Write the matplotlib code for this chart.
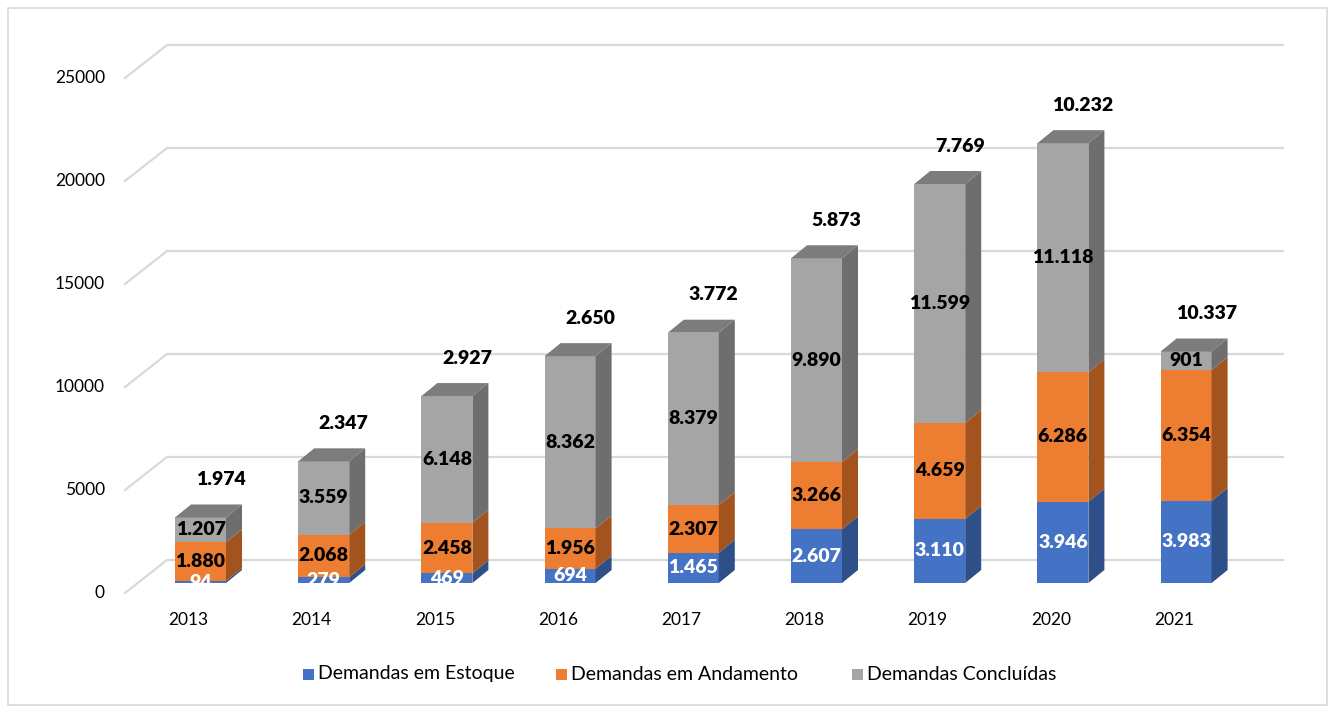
import matplotlib.pyplot as plt
from matplotlib.patches import Polygon, Rectangle

years = ['2013', '2014', '2015', '2016', '2017', '2018', '2019', '2020', '2021']
estoque = [94, 279, 469, 694, 1465, 2607, 3110, 3946, 3983]
andamento = [1880, 2068, 2458, 1956, 2307, 3266, 4659, 6286, 6354]
concluidas = [1207, 3559, 6148, 8362, 8379, 9890, 11599, 11118, 901]
top_labels = ['1.974', '2.347', '2.927', '2.650', '3.772', '5.873', '7.769', '10.232', '10.337']
series_names = ['Demandas em Estoque', 'Demandas em Andamento', 'Demandas Concluídas']
yticks = [0, 5000, 10000, 15000, 20000, 25000]

plt.rcParams['font.family'] = ['Lato', 'DejaVu Sans']

W, H = 1330, 707
fig = plt.figure(figsize=(W / 100, H / 100), dpi=100)
ax = fig.add_axes([0, 0, 1, 1])
ax.axis('off')

# pixel geometry of the original 3d chart: 123.2 px per category, 103 px per 5000
xs_px, ys_px = 123.2, 103 / 5000
x0_px, y0_px = 200.5, 583
ax.set_xlim((0 - x0_px) / xs_px, (W - x0_px) / xs_px)
ax.set_ylim((y0_px - H) / ys_px, y0_px / ys_px)

def dx(p): return p / xs_px
def dy(p): return p / ys_px

# outer frame
ax.add_patch(Rectangle((dx(8 - x0_px), dy(y0_px - 705)), dx(1319), dy(697),
                       fill=False, edgecolor='#D9D9D9', lw=1.2, zorder=0))

# back wall gridlines + left wall diagonals
grid_c = '#D9D9D9'
xl_front, xl_back, x_right = dx(125 - x0_px), dx(167 - x0_px), dx(1283 - x0_px)
for v in yticks:
    yb = v + dy(23)
    yf = v - dy(10)
    ax.plot([xl_front, xl_back, x_right], [yf, yb, yb], color=grid_c, lw=1.6,
            solid_joinstyle='miter', zorder=1)
    ax.text(dx(105 - x0_px), yf, str(v), ha='right', va='center', fontsize=12.5,
            color='#000000')

bw = dx(51)
ddx, ddy = dx(16), dy(13)
front_c = ['#4472C4', '#ED7D31', '#A5A5A5']
side_c = ['#2F4F89', '#A3531E', '#6E6E6E']
top_c = '#7C7C7C'
txt_c = ['white', 'black', 'black']

for i, yr in enumerate(years):
    vals = [estoque[i], andamento[i], concluidas[i]]
    base = 0
    xl, xr = i - bw / 2, i + bw / 2
    for k, v in enumerate(vals):
        ax.bar(i, v, bw, bottom=base, color=front_c[k], edgecolor='none', zorder=3)
        ax.add_patch(Polygon([(xr, base), (xr, base + v), (xr + ddx, base + v + ddy),
                              (xr + ddx, base + ddy)], closed=True,
                             facecolor=side_c[k], edgecolor='none', zorder=3))
        ax.text(i, base + v / 2, f'{v:,}'.replace(',', '.'), ha='center', va='center',
                fontsize=14, fontweight='heavy', color=txt_c[k], zorder=5)
        base += v
    ax.add_patch(Polygon([(xl, base), (xr, base), (xr + ddx, base + ddy),
                          (xl + ddx, base + ddy)], closed=True,
                         facecolor=top_c, edgecolor='none', zorder=3))
    ax.text(i + dx(20), base + dy(38), top_labels[i], ha='center', va='center',
            fontsize=14, fontweight='heavy', color='black', zorder=5)
    ax.text(i - dx(12), dy(y0_px - 620), yr, ha='center', va='center', fontsize=12.5)

# legend
leg_y = dy(y0_px - 674)
for name, c, px in zip(series_names, front_c, [303, 556, 852]):
    ax.add_patch(Rectangle((dx(px - x0_px), leg_y - dy(5.5)), dx(11), dy(11),
                           facecolor=c, edgecolor='none'))
    ax.text(dx(px + 15 - x0_px), leg_y, name, ha='left', va='center', fontsize=14)

fig.savefig('out.png', dpi=100)
